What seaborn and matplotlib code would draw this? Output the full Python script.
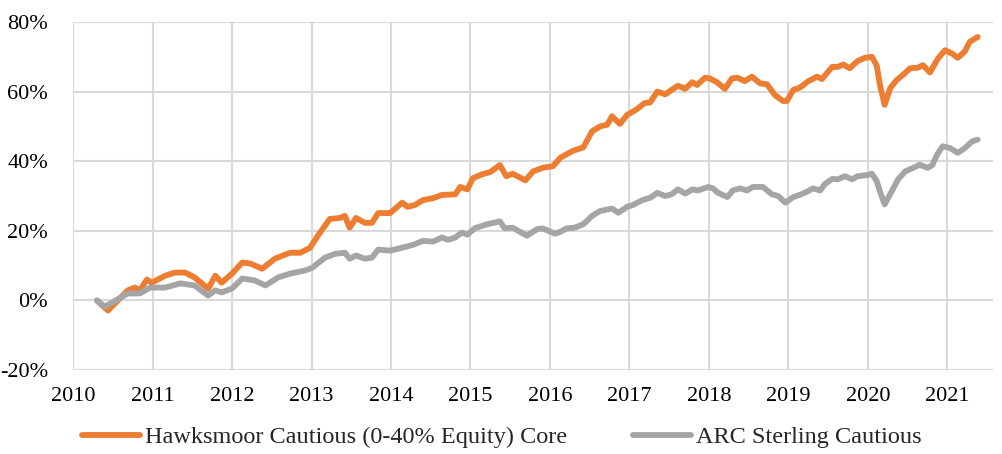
import seaborn as sns
import matplotlib.pyplot as plt
from matplotlib.ticker import FuncFormatter

# Hawksmoor Cautious (0-40% Equity) Core, cumulative return %
hawk_year = [2010.30, 2010.44, 2010.69, 2010.78, 2010.84, 2010.93, 2010.99, 2011.16, 2011.28, 2011.41,
             2011.53, 2011.70, 2011.79, 2011.87, 2012.00, 2012.13, 2012.23, 2012.38, 2012.54, 2012.73,
             2012.86, 2012.98, 2013.08, 2013.23, 2013.36, 2013.42, 2013.48, 2013.56, 2013.67, 2013.76,
             2013.84, 2013.99, 2014.14, 2014.21, 2014.30, 2014.40, 2014.53, 2014.64, 2014.81, 2014.87,
             2014.96, 2015.03, 2015.14, 2015.25, 2015.37, 2015.45, 2015.53, 2015.69, 2015.79, 2015.91,
             2016.04, 2016.13, 2016.29, 2016.42, 2016.53, 2016.63, 2016.72, 2016.78, 2016.88, 2016.97,
             2017.09, 2017.19, 2017.26, 2017.35, 2017.45, 2017.53, 2017.61, 2017.70, 2017.79, 2017.85,
             2017.95, 2018.01, 2018.10, 2018.20, 2018.29, 2018.36, 2018.45, 2018.54, 2018.64, 2018.73,
             2018.83, 2018.93, 2018.98, 2019.06, 2019.14, 2019.25, 2019.36, 2019.42, 2019.55, 2019.62,
             2019.69, 2019.77, 2019.87, 2019.96, 2020.05, 2020.11, 2020.15, 2020.21, 2020.28, 2020.36,
             2020.44, 2020.53, 2020.63, 2020.69, 2020.78, 2020.88, 2020.97, 2021.06, 2021.13, 2021.22,
             2021.28, 2021.38]
hawk_ret = [0.0, -2.9, 2.9, 3.7, 2.9, 6.0, 5.1, 7.1, 8.0, 8.0,
            6.6, 3.4, 7.1, 5.1, 7.7, 10.9, 10.6, 9.1, 12.0, 13.7,
            13.7, 15.1, 18.6, 23.4, 23.7, 24.3, 20.9, 23.7, 22.3, 22.3,
            25.1, 25.1, 28.1, 26.9, 27.4, 28.8, 29.4, 30.3, 30.5, 32.6,
            31.9, 35.1, 36.2, 36.9, 38.9, 35.7, 36.4, 34.5, 37.1, 38.1,
            38.6, 41.0, 43.0, 44.0, 48.6, 50.0, 50.5, 52.9, 50.7, 53.3,
            54.9, 56.7, 56.9, 60.0, 59.2, 60.5, 61.7, 60.8, 62.7, 61.9,
            64.0, 63.8, 62.7, 60.8, 63.8, 64.0, 63.0, 64.3, 62.4, 62.1,
            59.0, 57.3, 57.3, 60.5, 61.1, 63.0, 64.3, 63.6, 67.1, 67.1,
            67.8, 66.7, 68.8, 69.7, 70.0, 67.5, 62.0, 56.2, 61.0, 63.3,
            64.8, 66.7, 66.9, 67.6, 65.5, 69.5, 71.9, 70.9, 69.7, 71.6,
            74.3, 75.7]

# ARC Sterling Cautious, cumulative return %
arc_year = [2010.30, 2010.40, 2010.69, 2010.84, 2010.97, 2011.16, 2011.35, 2011.53, 2011.70, 2011.79,
            2011.87, 2012.00, 2012.13, 2012.29, 2012.42, 2012.58, 2012.73, 2012.92, 2013.01, 2013.17,
            2013.30, 2013.42, 2013.48, 2013.56, 2013.67, 2013.76, 2013.84, 2013.99, 2014.15, 2014.28,
            2014.40, 2014.53, 2014.64, 2014.72, 2014.81, 2014.89, 2014.96, 2015.06, 2015.21, 2015.37,
            2015.43, 2015.53, 2015.71, 2015.84, 2015.91, 2016.06, 2016.13, 2016.21, 2016.31, 2016.42,
            2016.53, 2016.63, 2016.78, 2016.86, 2016.97, 2017.04, 2017.16, 2017.26, 2017.35, 2017.45,
            2017.53, 2017.61, 2017.70, 2017.79, 2017.86, 2017.99, 2018.05, 2018.11, 2018.23, 2018.30,
            2018.39, 2018.48, 2018.55, 2018.68, 2018.79, 2018.87, 2018.96, 2019.06, 2019.14, 2019.23,
            2019.31, 2019.40, 2019.46, 2019.55, 2019.62, 2019.71, 2019.80, 2019.87, 2019.99, 2020.05,
            2020.11, 2020.15, 2020.21, 2020.30, 2020.38, 2020.47, 2020.57, 2020.65, 2020.75, 2020.81,
            2020.87, 2020.94, 2021.03, 2021.13, 2021.22, 2021.31, 2021.38]
arc_ret = [0.0, -1.8, 2.0, 2.0, 3.7, 3.7, 4.9, 4.3, 1.4, 2.9,
           2.3, 3.4, 6.3, 5.7, 4.3, 6.6, 7.7, 8.6, 9.4, 12.3,
           13.4, 13.7, 12.0, 12.9, 12.0, 12.3, 14.6, 14.3, 15.2, 16.0,
           17.1, 16.9, 18.1, 17.4, 18.1, 19.5, 18.9, 20.8, 21.9, 22.7,
           20.7, 20.9, 18.6, 20.5, 20.7, 19.2, 19.7, 20.7, 20.9, 21.9,
           24.3, 25.7, 26.4, 25.2, 26.9, 27.4, 28.8, 29.5, 30.9, 30.0,
           30.5, 31.9, 30.7, 31.9, 31.6, 32.6, 32.2, 31.0, 29.7, 31.6,
           32.2, 31.6, 32.6, 32.6, 30.5, 30.0, 28.1, 29.7, 30.3, 31.2,
           32.2, 31.6, 33.5, 34.9, 34.8, 35.7, 34.8, 35.7, 36.0, 36.4,
           34.3, 31.4, 27.6, 31.4, 34.8, 37.1, 38.1, 39.0, 38.1, 38.9,
           41.9, 44.3, 43.8, 42.4, 43.8, 45.7, 46.2]

hawk_label = 'Hawksmoor Cautious (0-40% Equity) Core'
arc_label = 'ARC Sterling Cautious'
year_ticks = list(range(2010, 2022))
pct_ticks = [-20, 0, 20, 40, 60, 80]

sns.set_style('white')
plt.rcParams['font.family'] = ['Liberation Serif', 'DejaVu Serif']

fig = plt.figure(figsize=(10.03, 4.54), dpi=100)
ax = fig.add_axes([0.0728, 0.185, 0.917, 0.7665])

sns.lineplot(x=hawk_year, y=hawk_ret, ax=ax, color='#ED7D31', linewidth=4.2,
             label=hawk_label, solid_capstyle='round', solid_joinstyle='round')
sns.lineplot(x=arc_year, y=arc_ret, ax=ax, color='#A5A5A5', linewidth=4.2,
             label=arc_label, solid_capstyle='round', solid_joinstyle='round')

ax.set_xlim(2010, 2021.57)
ax.set_ylim(-20, 80)
ax.set_xticks(year_ticks)
ax.set_yticks(pct_ticks)
ax.yaxis.set_major_formatter(FuncFormatter(lambda v, p: '%d%%' % v))
ax.grid(True, color='#d9d9d9', linewidth=1.5)
ax.set_axisbelow(True)
for s in ax.spines.values():
    s.set_visible(False)
ax.tick_params(axis='both', length=0, labelsize=16, colors='black')
ax.tick_params(axis='y', pad=18)
ax.tick_params(axis='x', pad=12)

handles, labels = ax.get_legend_handles_labels()
ax.get_legend().remove()
fig.legend(handles, labels, loc='center', bbox_to_anchor=(0.5, 0.037), ncol=2, frameon=False,
           fontsize=17.5, handlelength=2.4, columnspacing=2.7, handletextpad=0.2)

fig.savefig('out.png', dpi=100)
